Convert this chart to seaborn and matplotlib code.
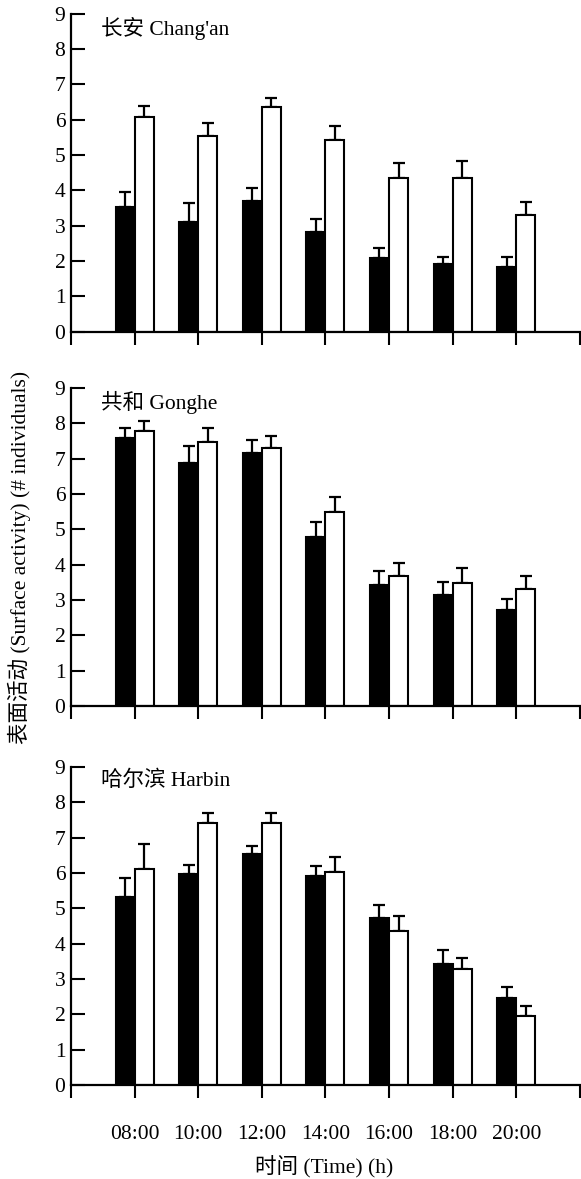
import numpy as np
import pandas as pd
import matplotlib
matplotlib.use("Agg")
import matplotlib.pyplot as plt
import seaborn as sns

times = ["08:00", "10:00", "12:00", "14:00", "16:00", "18:00", "20:00"]
groups = ["A", "B"]

changan_black = [3.54, 3.11, 3.70, 2.83, 2.09, 1.91, 1.82]
changan_black_err = [0.42, 0.53, 0.36, 0.36, 0.29, 0.21, 0.30]
changan_white = [6.09, 5.54, 6.36, 5.43, 4.34, 4.34, 3.31]
changan_white_err = [0.31, 0.38, 0.26, 0.38, 0.43, 0.49, 0.37]

gonghe_black = [7.59, 6.89, 7.17, 4.79, 3.43, 3.15, 2.72]
gonghe_black_err = [0.27, 0.48, 0.36, 0.41, 0.40, 0.36, 0.31]
gonghe_white = [7.80, 7.48, 7.31, 5.48, 3.69, 3.47, 3.31]
gonghe_white_err = [0.26, 0.38, 0.33, 0.43, 0.36, 0.44, 0.38]

harbin_black = [5.33, 5.98, 6.53, 5.93, 4.74, 3.44, 2.46]
harbin_black_err = [0.53, 0.25, 0.25, 0.26, 0.36, 0.37, 0.32]
harbin_white = [6.13, 7.43, 7.43, 6.02, 4.36, 3.28, 1.96]
harbin_white_err = [0.70, 0.28, 0.28, 0.44, 0.42, 0.31, 0.28]

panel_titles = ["长安 Chang'an", "共和 Gonghe", "哈尔滨 Harbin"]
y_ticks = list(range(0, 10))
x_label = "时间 (Time) (h)"
y_label = "表面活动 (Surface activity) (# individuals)"

panels = [
    (changan_black, changan_black_err, changan_white, changan_white_err),
    (gonghe_black, gonghe_black_err, gonghe_white, gonghe_white_err),
    (harbin_black, harbin_black_err, harbin_white, harbin_white_err),
]

sns.set_theme(style="white")
plt.rcParams['font.family'] = ['Liberation Serif', 'Noto Sans CJK SC', 'DejaVu Sans']
FS = 15.5
plt.rcParams['font.size'] = FS

fig = plt.figure(figsize=(5.81, 11.79), dpi=100)
left, width = 0.1222, 0.8758
bottoms = [0.7187, 0.4012, 0.0797]
height = 0.2696

for i, (bk, bke, wh, whe) in enumerate(panels):
    ax = fig.add_axes([left, bottoms[i], width, height])
    df = pd.DataFrame({
        "time": times * 2,
        "group": [groups[0]] * len(times) + [groups[1]] * len(times),
        "value": list(bk) + list(wh),
    })
    sns.barplot(data=df, x="time", y="value", hue="group", order=times,
                hue_order=groups, palette=["black", "white"], width=0.6,
                saturation=1, errorbar=None, edgecolor="black", linewidth=1.5,
                legend=False, ax=ax, zorder=2)
    pos = np.arange(len(times))
    for off, vals, errs in [(-0.15, bk, bke), (0.15, wh, whe)]:
        ax.errorbar(pos + off, vals, yerr=[np.zeros(len(vals)), errs],
                    fmt="none", ecolor="black", elinewidth=1.6, capsize=4.5,
                    capthick=1.6, zorder=1)
    ax.set_xlim(-1, len(times))
    ax.set_ylim(0, 9)
    ax.set_yticks(y_ticks)
    ax.set_yticklabels([str(v) for v in y_ticks], fontsize=FS)
    ax.set_xticks(np.arange(-1, len(times) + 1))
    if i == 2:
        ax.set_xticklabels([""] + times + [""], fontsize=FS)
    else:
        ax.set_xticklabels([])
    ax.set_xlabel("")
    ax.set_ylabel("")
    for s in ["top", "right"]:
        ax.spines[s].set_visible(False)
    for s in ["left", "bottom"]:
        ax.spines[s].set_color("black")
        ax.spines[s].set_linewidth(1.6)
        ax.spines[s].set_zorder(3)
    ax.tick_params(axis="y", direction="in", length=10, width=1.5, pad=4,
                   left=True, colors="black")
    ax.tick_params(axis="x", direction="out", length=9, width=1.5, pad=19.5,
                   bottom=True, colors="black")
    ax.text(0.058, 0.99, panel_titles[i], transform=ax.transAxes,
            fontsize=FS, ha="left", va="top", color="black")

fig.text(0.558, 0.0102, x_label, ha="center", va="center", fontsize=FS, color="black")
fig.text(0.034, 0.5276, y_label, ha="center", va="center", rotation=90,
         fontsize=FS, color="black")

fig.savefig("out.png", dpi=100, facecolor="white")
